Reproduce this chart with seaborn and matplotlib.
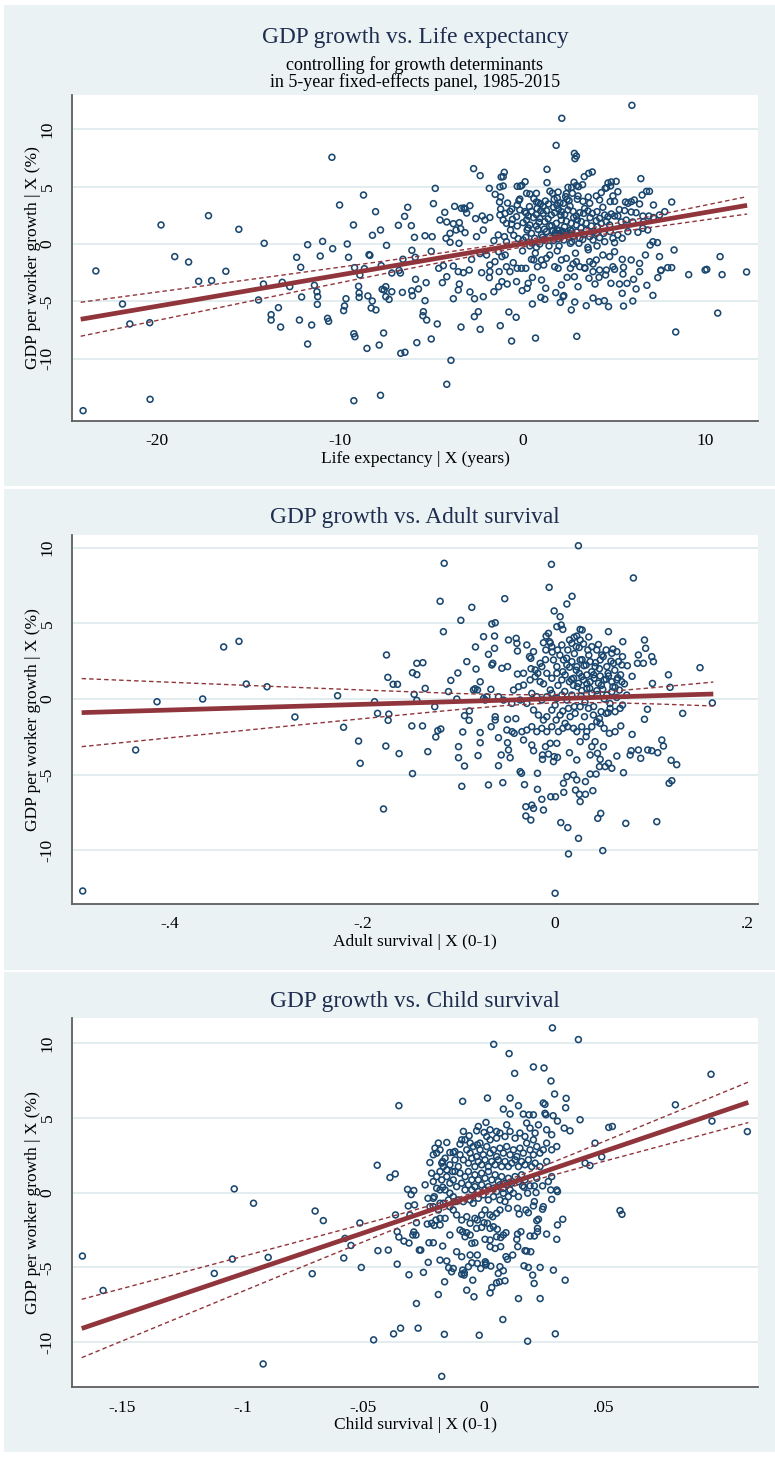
import numpy as np
import matplotlib
matplotlib.use("Agg")
import matplotlib.pyplot as plt
from matplotlib.patches import Rectangle
import seaborn as sns

# ---------------- data ----------------
# Panel 1: life expectancy residual (years) vs GDP per worker growth residual (%)
life_pts = [
    (-24.07, -14.53), (-23.37, -2.35), (-21.91, -5.23), (-21.51, -6.97), (-20.42, -6.86), (-20.40, -13.54),
    (-19.80, 1.66), (-19.05, -1.10), (-18.29, -1.57), (-17.74, -3.25), (-17.20, 2.47), (-17.03, -3.19),
    (-16.25, -2.38), (-15.54, 1.28), (-14.46, -4.88), (-14.19, -3.49), (-14.15, 0.06), (-13.77, -6.16),
    (-13.77, -6.63), (-13.37, -5.55), (-13.25, -7.24), (-13.16, -3.34), (-12.75, -3.72), (-12.37, -1.16),
    (-12.22, -6.63), (-12.15, -2.03), (-12.10, -4.62), (-11.77, -0.06), (-11.77, -8.72), (-11.55, -7.06),
    (-11.40, -3.60), (-11.26, -4.16), (-11.22, -4.59), (-11.24, -5.26), (-11.08, -1.05), (-10.95, 0.23),
    (-10.68, -6.48), (-10.62, -6.74), (-10.44, 7.56), (-10.40, -0.41), (-10.02, 3.40), (-9.80, -5.81),
    (-9.75, -5.40), (-9.67, -4.77), (-9.60, 0.00), (-9.53, -1.16), (-9.26, 1.66), (-9.24, -7.82),
    (-9.18, -8.08), (-9.24, -13.66), (-9.20, -2.06), (-8.98, -3.69), (-8.95, -4.27), (-8.95, -4.65),
    (-8.91, -2.70), (-8.71, 4.27), (-8.66, -2.15), (-8.52, -9.10), (-8.47, -4.53), (-8.41, -0.93),
    (-8.36, -0.99), (-8.29, -5.58), (-8.23, -4.97), (-8.22, 0.76), (-8.05, 2.82), (-8.03, -5.75),
    (-7.85, -8.81), (-7.78, 1.22), (-7.78, -13.19), (-7.74, -1.89), (-7.69, -3.95), (-7.61, -7.76),
    (-7.58, -4.01), (-7.49, -3.72), (-7.49, -4.59), (-7.45, -0.12), (-7.31, -4.83), (-7.16, -4.16),
    (-7.16, -2.53), (-6.80, 1.63), (-6.76, -2.30), (-6.69, -2.53), (-6.67, -9.53), (-6.58, -4.22),
    (-6.55, -1.33), (-6.46, 2.41), (-6.44, -9.44), (-6.29, 3.20), (-6.09, 1.60), (-6.06, -0.55),
    (-6.07, -4.08), (-6.03, -4.51), (-5.92, 0.58), (-5.88, -1.16), (-5.86, -3.08), (-5.79, -8.60),
    (-5.70, -3.92), (-4.78, 4.85), (-4.88, 3.52), (-5.34, 0.72), (-4.95, 0.64), (-5.00, -0.64),
    (-4.59, -2.12), (-5.28, -3.37), (-5.34, -4.94), (-5.43, -5.90), (-5.46, -6.25), (-5.25, -6.63),
    (-4.67, -6.97), (-5.00, -8.28), (5.99, 12.09), (2.15, 10.96), (-3.92, -10.14), (-4.15, -12.23),
    (-0.60, -8.46), (10.00, -2.27), (10.09, -2.21), (10.82, -1.10), (10.93, -2.67), (12.27, -2.44),
    (10.69, -6.02),
    (1.84, 8.6), (2.84, 7.9), (2.95, 7.67), (2.87, 7.44), (-2.68, 6.57), (1.34, 6.51), (3.82, 6.28),
    (3.62, 6.16), (3.38, 5.87), (-2.32, 5.96), (-1.0, 6.25), (-1.17, 5.84), (-1.06, 5.87),
    (6.48, 5.7), (0.14, 5.43), (1.34, 5.35), (5.13, 5.46), (4.86, 5.41), (4.68, 5.32), (2.82, 5.38),
    (3.29, 5.17), (-0.13, 5.03), (-0.29, 5.03), (-0.04, 5.11), (-1.06, 5.06), (-1.24, 4.97), (-1.82, 4.85),
    (2.49, 4.94), (2.69, 4.94), (2.95, 5.09), (3.07, 5.0), (4.53, 4.85), (4.82, 5.06), (4.6, 4.91),
    (6.95, 4.59), (6.79, 4.59), (6.55, 4.27), (-1.5, 4.33), (0.22, 4.42), (0.4, 4.36), (0.76, 4.42),
    (1.64, 4.42), (1.95, 4.53), (2.73, 4.42), (3.04, 4.19), (2.36, 4.13), (1.73, 3.89), (1.25, 3.75),
    (1.42, 3.49), (0.76, 3.66), (0.62, 3.95), (-0.15, 3.92), (-0.2, 3.78), (-1.2, 4.1), (-1.26, 3.66),
    (-0.82, 3.57), (-3.72, 3.28), (-2.88, 3.34), (-3.35, 3.11), (-3.21, 3.14), (-3.14, 3.05), (4.31, 4.48),
    (4.04, 4.19), (4.22, 3.84), (5.22, 4.56), (4.95, 4.19), (5.64, 3.66), (6.12, 3.84), (5.95, 3.69),
    (5.77, 3.55), (7.17, 3.4), (6.41, 3.49), (5.04, 3.72), (3.31, 3.72), (3.68, 3.55), (2.44, 3.89),
    (2.24, 3.55), (2.55, 3.78), (2.05, 3.6), (1.89, 3.37), (0.38, 3.26), (0.87, 3.6), (0.98, 3.49),
    (-0.29, 3.4), (1.13, 3.26),
    (-4.26, 2.76), (-4.52, 2.09), (-4.15, 1.92), (-3.79, 1.77), (-3.46, 1.86), (-3.39, 1.34), (-3.06, 2.7),
    (-3.64, 1.22), (-2.57, 2.21), (-2.21, 2.44), (-2.06, 2.09), (-1.79, 2.31), (-1.2, 3.05), (-1.24, 2.53),
    (-0.95, 2.67), (-0.69, 2.85), (-0.59, 3.05), (-0.55, 2.15), (-0.33, 2.38), (-0.15, 2.97), (0.12, 2.82),
    (0.31, 2.44), (0.49, 2.85), (0.76, 2.56), (0.94, 2.24), (1.13, 2.67), (1.31, 2.91), (1.58, 2.53),
    (1.76, 2.73), (1.96, 3.05), (2.13, 2.82), (2.31, 2.56), (2.49, 2.97), (2.77, 2.85), (2.95, 2.44),
    (3.13, 2.73), (3.35, 2.67), (3.58, 2.88), (3.82, 2.67), (4.08, 2.82), (4.22, 2.24), (4.5, 2.53),
    (4.68, 2.38), (4.86, 2.62), (5.04, 2.44), (5.22, 2.44), (5.59, 2.91), (5.95, 2.79), (6.22, 2.73),
    (6.59, 2.44), (6.92, 2.44), (7.17, 2.31), (7.5, 2.53), (7.79, 2.82), (8.17, 3.66), (6.63, 1.95),
    (6.04, 1.92), (5.68, 2.09), (5.41, 1.92), (0.22, 2.09), (0.03, 1.86), (-0.29, 1.57), (-0.6, 1.74),
    (-0.88, 1.8), (-1.06, 2.09), (0.4, 1.66), (0.76, 1.57), (1.22, 1.95), (1.49, 1.57), (1.85, 1.8),
    (2.13, 2.09), (2.4, 1.98), (2.67, 1.8), (2.95, 1.66), (3.22, 1.95), (3.49, 1.8), (3.77, 1.57),
    (4.04, 2.03), (4.31, 1.8), (4.59, 1.95), (4.77, 1.66),
    (-4.19, 0.5), (-3.97, 0.93), (-3.97, 0.15), (-3.15, 0.99), (-3.48, 0.06), (-2.52, 0.64), (-2.15, 1.22),
    (-1.57, 0.29), (-1.33, 0.79), (-0.99, 0.64), (-0.88, 0.2), (-0.66, 1.22), (-0.48, 0.76), (-0.24, 0.47),
    (0.03, 0.35), (0.18, 0.58), (0.25, 1.22), (0.49, 0.93), (0.67, 0.5), (0.85, 1.28), (1.04, 0.79),
    (1.13, 0.35), (1.31, 1.08), (1.49, 0.64), (1.67, 1.16), (1.85, 0.87), (1.95, 0.47), (2.13, 0.99),
    (2.26, 0.35), (2.4, 0.79), (2.62, 1.22), (2.77, 0.64), (2.95, 1.05), (3.13, 0.5), (3.35, 0.82),
    (3.49, 1.22), (3.68, 0.64), (3.86, 0.35), (4.04, 0.93), (4.22, 0.55), (4.44, 0.93), (4.5, 0.2),
    (4.8, 1.08), (4.95, 0.5), (5.04, 0.12), (5.22, 0.79), (5.46, 0.5), (5.77, 1.08), (6.32, 1.02),
    (6.59, 1.37), (6.86, 1.22), (6.99, -0.09), (7.14, 0.2), (7.39, 0.12), (8.3, -0.52), (4.08, -0.17),
    (3.58, -0.29), (3.09, 0.06), (2.62, 0.06), (2.0, -0.17), (1.45, -0.17), (0.94, 0.0), (0.76, -0.29),
    (0.4, -0.17),
    (-4.34, -1.89), (-3.79, -1.92), (-3.52, -2.41), (-3.24, -2.5), (-2.79, -1.34), (-2.33, -0.84),
    (-1.97, -0.96), (-1.79, -1.83), (-1.51, -1.54), (-1.31, -0.67), (-1.13, -1.1), (-0.95, -0.96),
    (-0.88, -1.98), (-0.69, -2.41), (-0.51, -1.63), (-0.29, -2.12), (-0.06, -2.12), (0.18, -2.12),
    (0.49, -1.34), (0.62, -1.39), (0.82, -1.98), (1.04, -1.39), (1.16, -1.83), (1.31, -1.25), (1.49, -0.96),
    (1.76, -1.98), (1.95, -2.12), (2.13, -1.39), (2.4, -1.25), (2.62, -2.12), (2.77, -1.74), (2.95, -1.54),
    (3.13, -1.98), (3.4, -2.06), (3.68, -1.54), (3.86, -1.74), (4.04, -1.39), (4.4, -0.96), (4.77, -1.1),
    (5.04, -0.67), (5.46, -1.34), (5.53, -2.03), (5.95, -1.39), (6.41, -1.69), (6.73, -0.96), (7.5, -1.1),
    (7.59, -2.27), (7.95, -2.06), (8.17, -2.06), (9.1, -2.67), (3.86, -2.41), (4.22, -2.27), (4.59, -2.27),
    (4.95, -1.98), (-1.79, -2.41), (-2.24, -2.5), (-1.28, -2.41), (-2.92, -2.27),
    (-4.39, -3.37), (-4.15, -2.85), (-3.79, -4.77), (-3.52, -4.01), (-3.46, -3.49), (-2.88, -4.18),
    (-2.63, -4.77), (-2.15, -4.59), (-1.82, -2.93), (-1.57, -4.16), (-1.31, -3.72), (-1.13, -3.28),
    (-0.84, -3.49), (-0.33, -3.28), (-0.02, -4.07), (0.31, -3.43), (0.25, -3.86), (0.54, -2.91),
    (1.04, -3.14), (1.27, -3.86), (1.82, -4.24), (2.13, -3.57), (2.26, -4.5), (2.44, -2.91), (2.84, -2.85),
    (3.04, -3.72), (3.42, -2.12), (3.64, -2.99), (3.97, -3.49), (4.19, -2.91), (4.55, -2.7), (4.84, -3.43),
    (5.04, -2.21), (5.31, -3.49), (5.5, -2.62), (5.72, -3.43), (6.08, -3.08), (6.22, -3.92), (6.41, -2.41),
    (6.81, -3.6), (7.14, -4.48), (7.41, -2.93), (7.57, -2.32), (5.46, -4.3),
    (-2.64, -6.33), (-2.42, -5.9), (-0.75, -5.93), (-0.35, -6.39), (0.54, -5.23), (1.0, -4.65),
    (1.22, -4.82), (2.07, -5.09), (2.22, -4.59), (2.86, -5.06), (2.67, -5.75), (3.49, -5.38), (3.86, -4.71),
    (4.17, -5.03), (4.48, -4.94), (4.71, -5.46), (5.53, -5.41), (6.04, -4.97), (-3.37, -7.24),
    (-2.32, -7.44), (-1.22, -7.12), (0.71, -8.2), (2.97, -8.05), (8.39, -7.67),
    (0.6, 2.3), (1.0, 2.9), (1.4, 2.2), (1.7, 3.2), (2.1, 2.5), (2.6, 3.3), (3.0, 2.1), (3.4, 3.1),
    (0.3, 1.4), (0.9, 1.9), (1.2, 1.3), (1.6, 1.6), (2.0, 1.2), (2.3, 1.5), (2.8, 2.3), (3.2, 1.4),
    (3.7, 2.3), (4.1, 1.5), (0.5, 0.1), (1.1, 0.6), (1.7, 0.3), (2.2, 0.7), (2.7, 0.2), (3.3, 0.4),
    (3.9, 1.1), (0.2, 2.7), (0.8, 3.1), (1.9, 4.0), (2.4, 4.4), (3.0, 3.9), (3.6, 4.1), (4.4, 3.2),
    (4.8, 3.7), (5.3, 3.0), (1.5, 4.6), (0.0, -0.6), (0.7, -0.8), (1.9, -0.6), (2.9, -0.8), (3.6, -0.5),
    (1.8, 1.0), (2.0, 0.9), (2.2, 1.1), (2.4, 1.0), (2.6, 0.9), (1.9, 1.2), (2.3, 0.8), (2.7, 1.1),
]

# Panel 2: adult survival residual (0-1)
adult_pts = [
    (-0.4906, -12.69), (-0.4356, -3.37), (-0.4134, -0.18), (-0.366, 0.0), (-0.3442, 3.44), (-0.3283, 3.81),
    (-0.3207, 0.99), (-0.2992, 0.81), (-0.2702, -1.19), (-0.2259, 0.22), (-0.2197, -1.87), (-0.2041, -2.78),
    (-0.2024, -4.25), (-0.1875, -0.18), (-0.1844, -0.95), (-0.1782, -7.27), (-0.1751, 2.91), (-0.1737, 1.43),
    (-0.1734, -1.41), (-0.1727, -1.0), (-0.1758, -3.11), (-0.1682, 0.97), (-0.1637, 0.97), (-0.162, -3.61),
    (-0.1488, -1.78), (-0.1481, -4.93), (-0.1481, 1.74), (-0.1436, 1.61), (-0.1436, 2.36), (-0.1464, 0.31),
    (-0.1436, -0.09), (-0.1377, -1.78), (-0.1373, 2.4), (-0.1349, 0.7), (-0.1322, -3.48), (-0.125, -0.51),
    (-0.1239, -2.51), (-0.1218, -2.09), (-0.1187, -1.98), (-0.1194, 6.46), (-0.116, 4.45), (-0.1152, 8.97),
    (-0.1107, 0.49), (-0.1083, 1.23), (-0.1021, 0.0), (-0.101, 1.72), (-0.1003, -3.15), (-0.1003, -3.88),
    (-0.0979, 5.2), (-0.0969, -5.77), (-0.0959, -2.18), (-0.0941, -4.43), (-0.0941, -1.1), (-0.0893, -1.41),
    (-0.089, -0.79), (-0.0917, 2.47), (-0.0865, 6.06), (-0.0848, 0.6), (-0.0831, 0.68), (-0.0806, 0.6),
    (-0.0827, 3.44), (-0.0821, 1.98), (-0.08, -3.74),
    (0.0242, 10.13), (-0.0038, 8.9), (-0.0062, 7.38), (0.0813, 8.0), (-0.0523, 6.63), (0.0176, 6.79),
    (0.0, -12.84), (0.1505, 2.07), (0.1633, -0.26), (0.1325, -0.95),
    (0.0122, 6.28), (-0.001, 5.82), (0.0052, 5.44), (-0.0657, 4.96), (-0.0622, 5.04), (0.0018, 4.78),
    (0.0063, 4.89), (0.008, 4.6), (-0.0069, 4.34), (-0.0093, 4.16), (-0.0743, 4.12), (-0.0629, 4.16),
    (0.0554, 4.45), (0.026, 4.6), (0.0225, 4.16), (0.0198, 4.08), (0.0281, 4.56), (-0.0484, 3.9),
    (-0.0404, 4.01), (-0.0397, 3.68), (-0.0294, 3.57), (-0.0629, 3.35), (-0.0692, 2.95), (-0.0391, 3.17),
    (-0.0224, 3.13), (-0.0266, 2.8), (-0.0252, 2.69), (-0.0121, 3.72), (-0.0058, 3.79), (-0.0034, 3.46),
    (-0.0096, 3.24), (0.0025, 3.24), (0.007, 3.57), (0.0132, 3.24), (0.0174, 3.68), (0.0219, 3.46),
    (0.026, 3.9), (0.0295, 3.64), (0.034, 3.24), (0.0381, 3.46), (0.0433, 3.24), (0.0485, 2.91),
    (0.053, 3.24), (0.0589, 3.02), (0.0641, 3.13), (0.0703, 3.79), (-0.0657, 2.25), (-0.0647, 2.36),
    (-0.0494, 2.14), (-0.0553, 2.03), (-0.0391, 1.65), (-0.0328, 1.7), (-0.0207, 1.92), (-0.0155, 2.36),
    (-0.0138, 2.14), (-0.0017, 2.58), (0.0018, 2.14), (0.0087, 2.58), (0.0122, 2.25), (0.0174, 2.47),
    (0.0225, 2.14), (0.026, 2.58), (0.0322, 2.25), (0.0364, 2.47), (0.0416, 2.14), (0.0468, 2.58),
    (0.0537, 2.14), (0.0606, 2.36), (0.0658, 2.47), (0.0693, 2.25), (0.0855, 2.36), (0.0917, 2.36),
    (0.1004, 2.8), (0.1021, 2.47), (0.0928, 3.9), (0.0865, 2.91), (0.094, 3.35), (0.1177, 1.6),
    (-0.0778, 1.14), (-0.0667, 0.64), (-0.0743, 0.04), (-0.0709, 0.15), (-0.0588, 0.15), (-0.0536, -0.07),
    (-0.0432, 0.59), (-0.038, 0.81), (-0.0328, 0.92), (-0.0259, 1.26), (-0.0207, 1.48), (-0.0155, 1.14),
    (-0.0086, 1.7), (-0.0034, 1.37), (0.0018, 1.7), (0.007, 1.26), (0.0104, 1.59), (0.0149, 1.14),
    (0.0191, 1.37), (0.0243, 1.04), (0.0277, 1.48), (0.0295, 1.26), (0.0329, 1.59), (0.0364, 1.14),
    (0.0405, 1.37), (0.045, 1.04), (0.0468, 1.52), (0.0509, 1.26), (0.0554, 1.52), (0.0589, 1.14),
    (0.0641, 1.26), (0.0693, 1.14), (0.0232, 0.81), (0.0277, 0.55), (0.0329, 0.7), (0.0381, 0.37),
    (0.0433, 0.55), (0.0495, 0.64), (0.0537, 0.26), (0.0589, 0.48), (0.0623, 0.77), (0.0668, 0.59),
    (0.0744, 0.26), (0.1011, 1.03), (0.1194, 0.77), (-0.0242, 0.37), (-0.019, 0.15), (-0.0138, -0.07),
    (-0.0086, 0.15), (-0.0034, 0.37), (0.0018, 0.04), (0.007, 0.26), (0.0122, -0.07), (0.0174, 0.26),
    (-0.045, -0.29), (-0.0363, -0.07), (-0.0294, -0.29), (-0.0726, -0.07), (-0.0622, -1.17), (-0.0622, -1.39),
    (-0.0664, -1.83), (-0.0494, -1.34), (-0.0408, -1.3), (-0.0224, -0.73), (-0.0173, -1.06), (-0.0121, -1.39),
    (-0.0086, -1.17), (-0.0034, -0.73), (0.0011, -1.39), (0.0052, -1.06), (0.0104, -1.61), (0.0139, -0.62),
    (0.0156, -1.17), (0.0208, -0.95), (0.026, -0.51), (0.0305, -1.17), (0.0347, -0.62), (0.0398, -1.06),
    (0.0433, -1.5), (0.0478, -0.84), (0.053, -0.95), (0.0571, -0.62), (0.0623, -0.84), (0.0675, -0.62),
    (0.0682, -1.78), (0.0928, -1.34), (0.0959, -0.68), (-0.0501, -2.05), (-0.0446, -2.16), (-0.0425, -2.27),
    (-0.0345, -2.16), (-0.0294, -2.05), (-0.0242, -1.83), (-0.019, -2.16), (-0.0138, -1.94), (-0.0086, -2.16),
    (-0.0034, -1.83), (0.0035, -2.16), (0.008, -1.94), (0.0129, -1.83), (0.0191, -1.94), (0.0225, -2.16),
    (0.0277, -1.83), (0.0329, -2.16), (0.0381, -1.83), (0.0468, -1.61), (0.0509, -1.94), (0.0564, -2.27),
    (0.0623, -2.16), (0.08, -2.34), (-0.0778, -2.22), (-0.0778, -2.89), (-0.0588, -2.56), (-0.0494, -2.89),
    (-0.0484, -3.37), (-0.056, -3.7), (-0.0467, -3.88), (-0.0588, -4.41), (-0.0328, -2.71), (-0.0242, -3.04),
    (-0.0224, -3.42), (-0.0131, -3.7), (-0.0131, -3.99), (-0.0069, -3.64), (-0.001, -3.81), (-0.0017, -4.14),
    (0.0025, -3.86), (-0.01, -3.15), (-0.0051, -2.93), (0.0018, -2.93), (0.0149, -3.55), (0.0225, -4.03),
    (0.026, -2.82), (0.0322, -2.49), (0.0381, -3.15), (0.0415, -2.82), (0.0364, -3.7), (0.044, -3.59),
    (0.0468, -3.99), (0.0502, -3.15), (0.0461, -4.47), (0.052, -4.47), (0.0554, -4.25), (0.0589, -4.58),
    (0.0641, -3.77), (0.071, -4.87), (0.0779, -3.7), (0.079, -3.42), (0.0865, -3.37), (0.0889, -3.92),
    (0.0962, -3.37), (0.1004, -3.42), (0.1066, -3.55), (0.1108, -2.71), (0.1125, -3.11), (0.1205, -4.05),
    (0.1263, -4.34), (-0.0692, -5.68), (-0.0543, -5.53), (-0.0363, -4.8), (-0.0349, -4.91), (-0.0318, -5.66),
    (-0.0183, -4.91), (-0.0183, -5.97), (-0.0138, -6.63), (-0.0045, -6.46), (0.0004, -6.46), (0.0087, -5.57),
    (0.0122, -5.13), (0.009, -6.17), (0.0212, -6.02), (0.019, -5.02), (0.0225, -5.35), (0.0253, -6.3),
    (0.026, -6.78), (0.0315, -6.3), (0.0315, -5.46), (0.0364, -4.96), (0.0392, -6.06), (0.0426, -4.96),
    (0.1184, -5.57), (0.1212, -5.4), (-0.0304, -7.12), (-0.0242, -7.01), (-0.0224, -7.23), (-0.0304, -7.73),
    (-0.0252, -8.0), (-0.0121, -7.34), (0.0059, -8.17), (0.0132, -8.5), (0.0243, -9.21), (0.0139, -10.24),
    (0.0443, -7.89), (0.0474, -7.56), (0.0495, -10.02), (0.0734, -8.22), (0.1056, -8.11),
    (0.005, 2.9), (0.012, 2.7), (0.02, 3.0), (0.028, 2.6), (0.035, 2.9), (0.042, 2.4), (0.05, 2.8),
    (0.058, 2.5), (0.015, 2.1), (0.022, 1.9), (0.03, 2.2), (0.038, 1.8), (0.046, 2.0), (0.055, 1.7),
    (0.062, 1.9), (0.068, 1.6), (0.008, 1.8), (0.017, 1.3), (0.025, 1.7), (0.033, 1.0), (0.04, 1.6),
    (0.048, 0.9), (0.053, 1.3), (0.06, 0.8), (0.065, 1.4), (0.072, 1.0), (0.003, 0.9), (0.01, 0.5),
    (0.019, 0.9), (0.027, 0.2), (0.036, 0.7), (0.044, 0.3), (0.051, 0.0), (0.057, -0.3), (0.064, 0.1),
    (0.07, -0.4), (-0.005, 0.6), (-0.012, 1.0), (-0.018, 1.7), (-0.025, 2.0), (-0.01, 2.6), (-0.003, 3.1),
    (0.0, -0.4), (0.008, -0.8), (0.02, -0.5), (0.031, -0.2), (0.04, -0.5), (0.046, -1.3), (0.055, -0.9),
    (0.025, 3.4), (0.045, 3.6), (0.06, 3.3), (0.035, 4.1), (0.015, 3.9), (-0.005, 3.7), (0.07, 2.8),
    (0.075, 2.2), (0.08, 1.5),
]

# Panel 3: child survival residual (0-1)
child_pts = [
    (-0.1666, -4.24), (-0.158, -6.54), (-0.1118, -5.40), (-0.1043, -4.44), (-0.1035, 0.25), (-0.0955, -0.71),
    (-0.0915, -11.45), (-0.0894, -4.33), (-0.0711, -5.42), (-0.0699, -1.23), (-0.0665, -1.87), (-0.058, -4.37),
    (-0.0575, -3.06), (-0.055, -3.53), (-0.0513, -2.03), (-0.0507, -5.0), (-0.0456, -9.84), (-0.0441, 1.83),
    (-0.0438, -3.88), (-0.0395, -3.84), (-0.0388, 1.01), (-0.0373, -9.44), (-0.0366, 1.25), (-0.0365, -1.49),
    (-0.0358, -4.78), (-0.0358, -2.61), (-0.0351, 5.81), (-0.0351, -2.97), (-0.0344, -9.06), (-0.033, -3.24),
    (-0.0315, 0.22), (-0.0289, 0.14), (-0.03, -0.13), (-0.0312, -0.89), (-0.0309, -5.49), (-0.0309, -3.37),
    (-0.0305, -1.49), (-0.0286, -0.82), (-0.0289, -2.63), (-0.028, -2.83), (-0.0293, -2.83), (-0.0278, -2.01),
    (-0.0278, -7.41), (-0.0271, -9.06), (-0.0266, -3.84),
    (0.0287, 11.01), (0.0395, 10.23), (0.0043, 9.91), (0.0107, 9.29), (0.0208, 8.4), (0.0252, 8.33),
    (0.0130, 7.97), (0.0281, 7.46), (0.0296, 6.59), (0.0344, 6.3), (0.0017, 6.32), (0.0111, 6.32),
    (0.0946, 7.91), (0.0798, 5.87), (0.095, 4.78), (0.1097, 4.08), (0.0521, 4.36), (0.0536, 4.42),
    (0.0492, 2.39), (0.0568, -1.2), (0.0576, -1.45), (-0.0173, -12.28), (0.0184, -9.93), (0.0299, -9.44),
    (-0.0017, -9.53), (-0.0162, -9.47),
    (-0.0086, 6.1), (0.0083, 5.58), (0.0111, 5.25), (0.0146, 5.81), (0.0166, 5.25), (0.019, 5.2),
    (0.0208, 5.2), (0.0256, 5.3), (0.026, 5.2), (0.0249, 5.99), (0.0256, 5.9), (0.029, 5.14), (0.0308, 4.78),
    (0.0342, 5.67), (0.0336, 4.31), (0.036, 4.13), (0.0402, 4.87), (0.0464, 3.31), (0.0423, 1.97),
    (0.0443, 1.81), (0.0011, 4.69), (-0.0083, 4.09), (-0.0059, 3.8), (-0.0028, 4.13), (0.0003, 4.02),
    (-0.0014, 3.31), (-0.0025, 3.2), (-0.009, 3.53), (-0.0097, 3.24), (-0.0118, 2.75), (-0.0139, 2.68),
    (-0.0125, 2.68), (-0.0187, 3.31), (-0.0201, 2.97), (-0.0194, 2.64), (-0.0152, 3.35), (-0.0222, 2.01),
    (-0.0173, 1.97), (-0.0169, 2.08), (-0.0152, 1.52), (-0.0128, 1.41), (-0.0118, 1.41), (-0.0242, 0.52),
    (-0.023, -0.38), (-0.0208, -0.38), (-0.0204, -0.27), (-0.0194, 0.29), (-0.018, 0.18), (-0.0169, 0.36),
    (-0.0197, -1.83), (-0.018, -1.72), (-0.0159, -1.72), (-0.0233, -2.1), (-0.0215, -2.05), (-0.0204, -2.19),
    (-0.018, -2.16), (-0.026, -3.84), (-0.0226, -3.35), (-0.0208, -3.35), (-0.0229, -4.66), (-0.0249, -5.33),
    (-0.0187, -6.81), (-0.0161, -5.96), (-0.0169, -3.57), (-0.0139, -2.83), (-0.018, -4.51), (-0.0152, -4.57),
    (-0.0144, -5.02), (-0.0132, -5.29), (-0.0125, -5.07), (-0.0111, -3.95), (-0.009, -4.28), (-0.0086, -5.18),
    (-0.0079, -5.36), (-0.009, -5.45), (-0.008, -5.51), (-0.0069, -6.52), (-0.0044, -5.85), (-0.0039, -6.96),
    (-0.0062, -4.95), (-0.0048, -4.69), (-0.0025, -4.73), (-0.0011, -5.07), (0.0008, -4.62), (0.0011, -4.73),
    (0.001, -4.84), (-0.0055, -4.17), (-0.0025, -4.17), (-0.0048, -3.39), (-0.0035, -3.35), (-0.0076, -2.95),
    (-0.0055, -2.83), (-0.0097, -2.5), (-0.0086, -2.61), (-0.0069, -2.68), (-0.0028, -2.39), (-0.0007, -2.32),
    (0.0003, -2.01), (0.0017, -2.05), (0.0028, -2.39), (0.0042, -2.28), (0.0058, -2.45), (0.0007, -3.12),
    (0.0028, -3.17), (0.0055, -2.95), (0.0072, -3.0), (0.0083, -2.83), (0.0028, -3.61), (0.0049, -3.73),
    (0.0072, -3.61), (0.0094, -2.68), (0.0031, -4.91), (0.0069, -4.95), (0.0083, -5.22), (0.0062, -5.4),
    (0.0067, -5.96), (0.0055, -6.03), (0.0035, -6.34), (0.0028, -6.7), (0.009, -5.89), (0.0094, -4.28),
    (0.01, -4.46), (0.0122, -4.17), (0.0139, -3.12), (0.0143, -3.61), (0.0173, -3.88), (0.018, -3.91),
    (0.0197, -3.95), (0.0169, -4.89), (0.0187, -5.0), (0.0205, -5.51), (0.0211, -6.07), (0.0146, -7.08),
    (0.0236, -7.08), (0.0236, -5.0), (0.0291, -5.18), (0.034, -5.85), (0.0081, -8.48), (0.0142, -2.77),
    (0.0156, -2.61), (0.0194, -2.9), (0.0212, -2.9), (0.0225, -2.39), (0.0225, -2.61), (0.0263, -2.77),
    (0.0305, -3.12), (0.0308, -2.16), (0.033, -1.78), (0.0222, -1.87), (0.0229, -1.78), (0.0177, -1.16),
    (0.0187, -1.34), (0.0149, -1.43), (0.0142, -1.05), (0.0249, -0.94), (0.0246, -1.11), (0.0208, -0.89),
    (0.0212, -0.6), (0.0284, -0.45), (0.0305, 0.18), (0.0308, 0.07), (0.028, 0.18), (0.027, 0.74),
    (0.0284, 1.07), (0.0246, 0.45), (0.0222, 0.96), (0.0212, 0.45), (0.0219, 0.0), (0.0194, 0.45),
    (0.0184, -0.04), (0.0163, 0.45), (0.0169, 0.36), (0.0146, -0.27), (0.0125, -0.04), (0.0104, -0.27),
    (0.009, -0.6), (0.0104, -1.05), (0.0069, -1.16), (0.0055, -1.38), (0.0028, -1.49), (0.0039, -1.61),
    (0.0007, -1.16), (-0.0007, -1.49), (-0.0025, -1.83), (-0.0035, -1.72), (-0.0055, -2.05), (-0.0069, -1.61),
    (-0.009, -1.83), (-0.0111, -1.49), (-0.0125, -1.16), (-0.0139, -0.94), (-0.0104, -0.49), (-0.0083, -0.6),
    (-0.0055, -0.49), (-0.0042, -0.71), (-0.0021, -0.38), (0.0, -0.15), (0.0021, -0.49), (0.0042, -0.27),
    (0.0069, -0.49), (0.0083, -0.04),
    (-0.0069, 2.86), (-0.0055, 2.64), (-0.0042, 3.08), (-0.0028, 2.41), (-0.0014, 2.86), (0.0, 2.53),
    (0.0014, 3.08), (0.0028, 2.64), (0.0042, 2.86), (0.0055, 2.41), (0.0069, 2.97), (0.0083, 2.64),
    (0.0097, 3.08), (0.0111, 2.53), (0.0125, 2.86), (0.0139, 2.41), (0.0152, 2.97), (0.0166, 2.64),
    (0.018, 3.31), (0.0194, 2.86), (0.0208, 2.53), (0.0222, 3.08), (0.0235, 2.64), (0.0249, 2.86),
    (0.0263, 3.31), (0.0284, 2.86), (0.0305, 3.08), (-0.0083, 2.19), (-0.0062, 1.97), (-0.0048, 2.3),
    (-0.0035, 1.74), (-0.0021, 2.08), (-0.0007, 1.86), (0.0007, 2.19), (0.0021, 1.74), (0.0035, 2.08),
    (0.0049, 1.86), (0.0062, 2.19), (0.0076, 1.74), (0.009, 2.08), (0.0104, 1.74), (0.0118, 1.97),
    (0.0132, 2.19), (0.0146, 1.74), (0.0159, 2.08), (0.0173, 1.86), (0.0187, 2.19), (0.0201, 1.74),
    (0.0215, 1.97), (0.0235, 1.74), (0.0263, 2.08), (-0.0097, 1.3), (-0.0076, 1.07), (-0.0062, 1.41),
    (-0.0048, 0.85), (-0.0035, 1.19), (-0.0021, 0.85), (-0.0007, 1.3), (0.0007, 0.96), (0.0021, 1.41),
    (0.0035, 0.85), (0.0049, 1.19), (0.0062, 0.74), (0.0076, 1.07), (0.009, 0.63), (0.0104, 0.96),
    (0.0118, 0.63), (0.0132, 1.07), (0.0146, 0.74), (0.0159, 1.19), (0.0173, 0.85), (-0.0125, 0.85),
    (-0.0111, 0.4), (-0.009, 0.63), (-0.0076, 0.18), (-0.0062, 0.52), (-0.0048, 0.18), (-0.0035, 0.4),
    (-0.0021, 0.07), (-0.0007, 0.52), (0.0007, 0.18), (0.0021, 0.4), (0.0042, 0.29), (0.0055, 0.07),
    (0.0069, 0.52), (0.0083, 0.29), (0.0097, 0.52), (0.0111, 0.18), (-0.0152, 1.07), (-0.0139, 0.63),
    (-0.0173, 0.85), (-0.0194, 1.07), (-0.0208, 0.74), (0.0014, 3.75), (0.0028, 3.53), (0.0055, 3.64),
    (0.0069, 3.98), (0.009, 3.75), (0.0111, 4.09), (0.0132, 3.64), (0.0152, 3.98), (0.0173, 3.75),
    (0.0194, 4.31), (0.0215, 3.98), (0.0229, 4.53), (0.018, 4.65), (0.0263, 4.2), (0.0284, 3.87),
    (0.0208, 3.53), (0.0097, 4.53), (0.0055, 4.09), (0.0028, 4.2), (-0.0021, 4.42), (-0.0055, 3.31),
    (-0.0076, 3.53), (-0.0097, 2.53), (-0.0118, 2.19), (-0.0139, 1.86), (-0.0159, 2.3), (-0.018, 2.86),
    (-0.0208, 2.53), (-0.0215, 1.3), (-0.018, 1.41), (-0.0166, 1.74), (-0.0104, 1.74), (-0.0125, -0.27),
    (-0.0145, -0.49), (-0.0166, -0.71), (-0.0139, -0.04), (-0.0159, 0.18), (-0.0118, -0.6), (-0.0208, -0.94),
    (-0.0187, -1.16), (-0.0222, -0.94), (-0.018, -0.71),
]

# fitted line and 95% CI (read at a few x positions)
life_fit_x = [-24.2, -18, -12, -6, -2, 0, 2, 6, 12.3]
life_fit = [-6.56, -4.88, -3.24, -1.61, -0.52, 0.02, 0.56, 1.65, 3.37]
life_hi = [-5.08, -3.76, -2.46, -1.14, -0.21, 0.30, 0.86, 2.08, 4.13]
life_lo = [-8.04, -6.00, -4.02, -2.08, -0.83, -0.26, 0.27, 1.22, 2.61]

adult_fit_x = [-0.4917, -0.4, -0.3, -0.2, -0.1, -0.05, 0, 0.05, 0.1, 0.1643]
adult_fit = [-0.90, -0.728, -0.541, -0.353, -0.166, -0.072, 0.022, 0.116, 0.21, 0.33]
adult_hi = [1.35, 1.108, 0.848, 0.594, 0.362, 0.281, 0.292, 0.469, 0.738, 1.12]
adult_lo = [-3.15, -2.564, -1.93, -1.30, -0.694, -0.425, -0.248, -0.237, -0.318, -0.46]

child_fit_x = [-0.1669, -0.12, -0.08, -0.04, -0.01, 0.0, 0.02, 0.05, 0.08, 0.1101]
child_fit = [-9.08, -6.52, -4.34, -2.158, -0.522, 0.024, 1.115, 2.752, 4.388, 6.03]
child_hi = [-7.13, -5.12, -3.41, -1.68, -0.31, 0.23, 1.45, 3.41, 5.39, 7.39]
child_lo = [-11.03, -7.92, -5.27, -2.64, -0.74, -0.18, 0.78, 2.09, 3.38, 4.68]

y_ticks = [-10, -5, 0, 5, 10]
y_labels = ["-10", "-5", "0", "5", "10"]

panels = [
    dict(title="GDP growth vs. Life expectancy", pts=life_pts, fx=life_fit_x, fit=life_fit,
         hi=life_hi, lo=life_lo, xlabel="Life expectancy | X (years)",
         xticks=[-20, -10, 0, 10], xticklabels=["-20", "-10", "0", "10"],
         xlim=(-24.66, 12.88), ylim=(-15.43, 12.99), box=(95, 421)),
    dict(title="GDP growth vs. Adult survival", pts=adult_pts, fx=adult_fit_x, fit=adult_fit,
         hi=adult_hi, lo=adult_lo, xlabel="Adult survival | X (0-1)",
         xticks=[-0.4, -0.2, 0, 0.2], xticklabels=["-.4", "-.2", "0", ".2"],
         xlim=(-0.5014, 0.2104), ylim=(-13.55, 10.84), box=(535, 904)),
    dict(title="GDP growth vs. Child survival", pts=child_pts, fx=child_fit_x, fit=child_fit,
         hi=child_hi, lo=child_lo, xlabel="Child survival | X (0-1)",
         xticks=[-0.15, -0.1, -0.05, 0, 0.05], xticklabels=["-.15", "-.1", "-.05", "0", ".05"],
         xlim=(-0.1708, 0.114), ylim=(-12.99, 11.67), box=(1018, 1387)),
]

# ---------------- style ----------------
BG = "#eaf2f3"
NAVY = "#1a476f"
MAROON = "#90353b"
TITLE_C = "#1e2d4f"

sns.set_theme(style="white")
plt.rcParams["font.family"] = ["Liberation Serif", "DejaVu Serif"]

W, H = 775, 1459
fig = plt.figure(figsize=(W / 100, H / 100), dpi=100, facecolor="white")

# panel backgrounds (pixel rows), drawn beneath the axes
for top, bot in [(5, 486), (489, 970), (972, 1452)]:
    fig.patches.append(Rectangle((4 / W, 1 - bot / H), 1 - 4 / W, (bot - top) / H,
                                 transform=fig.transFigure, facecolor=BG, edgecolor="none", zorder=-5))

left_px, right_px = 72.3, 757.7
title_y = [38, 518, 1002]

for i, p in enumerate(panels):
    top, bot = p["box"]
    ax = fig.add_axes([left_px / W, 1 - bot / H, (right_px - left_px) / W, (bot - top) / H])
    ax.set_facecolor("white")

    xs = [a for a, b in p["pts"]]
    ys = [b for a, b in p["pts"]]
    sns.scatterplot(x=xs, y=ys, ax=ax, marker="o", s=18, facecolor="none",
                    edgecolor=NAVY, linewidth=1.15, legend=False, zorder=3)
    sns.lineplot(x=p["fx"], y=p["hi"], ax=ax, color=MAROON, linewidth=1.0,
                 linestyle=(0, (3.2, 2.2)), sort=False, estimator=None, zorder=4)
    sns.lineplot(x=p["fx"], y=p["lo"], ax=ax, color=MAROON, linewidth=1.0,
                 linestyle=(0, (3.2, 2.2)), sort=False, estimator=None, zorder=4)
    sns.lineplot(x=p["fx"], y=p["fit"], ax=ax, color=MAROON, linewidth=3.4,
                 sort=False, estimator=None, zorder=5, solid_capstyle="butt")

    ax.set_xlim(*p["xlim"])
    ax.set_ylim(*p["ylim"])
    ax.set_yticks(y_ticks)
    ax.set_yticklabels(y_labels, rotation=90, va="center")
    ax.set_xticks(p["xticks"])
    ax.set_xticklabels(p["xticklabels"])
    ax.grid(axis="y", color="#e3edef", linewidth=1.4, zorder=0)
    ax.set_axisbelow(True)
    for s in ["top", "right"]:
        ax.spines[s].set_visible(False)
    for s in ["left", "bottom"]:
        ax.spines[s].set_color("#5e5e5e")
        ax.spines[s].set_linewidth(1.3)
    ax.tick_params(axis="both", direction="out", length=4, width=1, color="#5e5e5e",
                   labelsize=12.5, labelcolor="black")
    ax.tick_params(axis="y", pad=8)
    ax.tick_params(axis="x", pad=5)

    ax.set_ylabel("GDP per worker growth | X (%)", fontsize=12.5, color="black")
    ax.set_xlabel(p["xlabel"], fontsize=12.5, color="black")
    hpx = bot - top
    ax.yaxis.set_label_coords(-0.045, 0.5)
    ax.xaxis.set_label_coords(0.5, -30 / hpx)

    fig.text(415 / W, 1 - title_y[i] / H, p["title"], ha="center", va="center",
             fontsize=16.8, color=TITLE_C)

fig.text(415 / W, 1 - 65 / H, "controlling for growth determinants", ha="center", va="center",
         fontsize=13, color="black")
fig.text(415 / W, 1 - 82 / H, "in 5-year fixed-effects panel, 1985-2015", ha="center", va="center",
         fontsize=13, color="black")

fig.savefig("out.png", dpi=100, facecolor="white")
